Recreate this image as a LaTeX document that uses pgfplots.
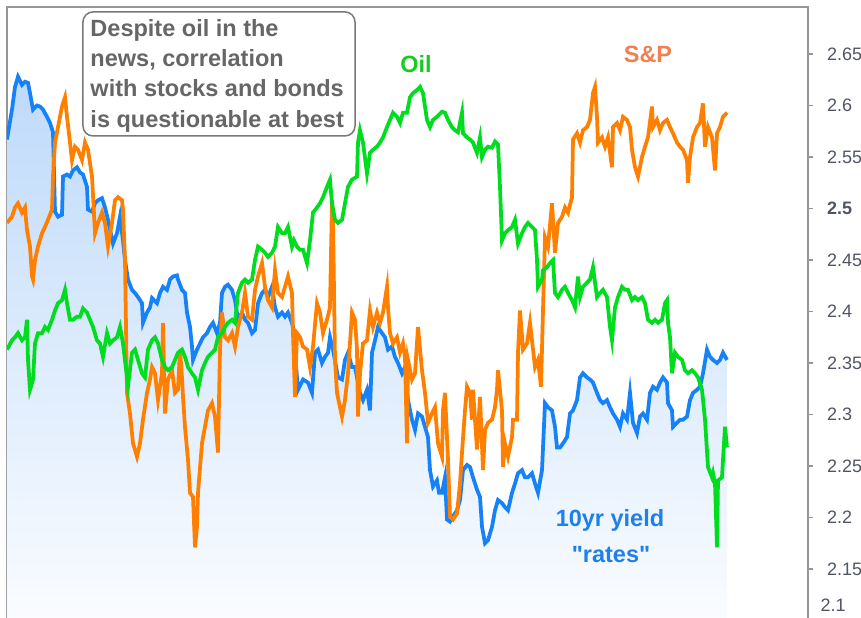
\documentclass[border=0pt]{standalone}
\usepackage{pgfplots}
\pgfplotsset{compat=1.18}
\usepackage{pgfplotstable}
\usepackage{fontspec}
\setmainfont{Liberation Sans}
\definecolor{bline}{RGB}{22,130,250}
\definecolor{oline}{RGB}{255,128,0}
\definecolor{gline}{RGB}{0,220,30}
\definecolor{blab}{RGB}{30,128,235}
\definecolor{olab}{RGB}{240,128,80}
\definecolor{glab}{RGB}{20,205,30}
\definecolor{boxtxt}{RGB}{102,102,102}
\definecolor{tlab}{RGB}{80,85,100}
\definecolor{frame}{RGB}{150,150,150}
\definecolor{filltop}{RGB}{190,218,250}
\definecolor{fillbot}{RGB}{250,252,255}

\pgfplotstableread{
x y
7 2.567
12 2.596
15 2.618
18 2.628
22 2.620
25 2.623
28 2.622
30 2.612
33 2.596
37 2.600
40 2.599
43 2.596
47 2.589
50 2.583
53 2.574
55 2.497
58 2.492
62 2.494
63 2.531
67 2.533
70 2.531
73 2.537
77 2.540
80 2.535
83 2.533
87 2.521
88 2.499
92 2.497
95 2.505
98 2.508
102 2.510
105 2.501
108 2.489
113 2.466
117 2.476
120 2.492
123 2.469
125 2.450
128 2.431
132 2.421
135 2.418
138 2.414
142 2.408
143 2.389
147 2.399
150 2.404
152 2.413
157 2.408
160 2.418
163 2.424
167 2.421
170 2.431
173 2.434
177 2.435
178 2.431
182 2.421
185 2.418
187 2.399
190 2.385
192 2.366
193 2.353
197 2.363
200 2.369
203 2.375
207 2.379
210 2.385
213 2.389
217 2.379
220 2.389
222 2.418
225 2.424
228 2.426
232 2.421
235 2.411
238 2.392
242 2.399
245 2.392
248 2.389
252 2.379
255 2.382
258 2.408
262 2.418
265 2.421
268 2.414
272 2.424
275 2.404
278 2.395
282 2.399
285 2.395
288 2.399
292 2.389
293 2.385
298 2.324
303 2.334
308 2.331
312 2.321
315 2.360
318 2.363
322 2.350
325 2.356
328 2.360
330 2.375
333 2.363
338 2.336
342 2.334
345 2.353
348 2.360
352 2.346
355 2.346
360 2.321
363 2.314
367 2.324
370 2.304
372 2.360
375 2.372
378 2.385
382 2.379
385 2.375
388 2.363
392 2.366
395 2.356
398 2.350
402 2.340
405 2.346
408 2.314
412 2.295
415 2.285
418 2.301
422 2.298
425 2.288
428 2.278
430 2.246
433 2.230
437 2.236
439 2.224
442 2.224
445 2.239
447 2.198
450 2.196
453 2.201
457 2.207
460 2.217
463 2.246
467 2.251
470 2.249
473 2.239
477 2.227
480 2.220
482 2.191
485 2.175
488 2.178
492 2.191
495 2.207
498 2.217
502 2.214
505 2.210
508 2.207
512 2.224
515 2.233
518 2.243
522 2.246
525 2.239
528 2.239
532 2.243
535 2.233
538 2.224
542 2.246
545 2.311
548 2.307
552 2.304
555 2.288
557 2.268
560 2.268
563 2.272
567 2.278
570 2.301
573 2.304
577 2.314
580 2.336
583 2.340
587 2.336
590 2.334
593 2.331
597 2.321
600 2.314
603 2.311
607 2.314
610 2.307
613 2.301
617 2.295
620 2.288
623 2.301
627 2.295
630 2.321
633 2.292
637 2.282
640 2.298
643 2.301
647 2.295
650 2.321
653 2.327
657 2.324
660 2.331
663 2.336
667 2.331
668 2.311
672 2.304
673 2.288
677 2.292
680 2.295
683 2.295
687 2.298
690 2.314
693 2.321
697 2.324
700 2.327
703 2.340
707 2.363
710 2.356
713 2.353
717 2.350
720 2.353
723 2.360
727 2.353
}\yieldtab

\pgfplotstableread{
x y
7 2.486
12 2.492
15 2.501
18 2.505
22 2.496
25 2.501
27 2.479
30 2.463
32 2.434
33 2.431
35 2.450
38 2.463
42 2.476
45 2.482
48 2.489
52 2.499
53 2.531
55 2.564
58 2.579
62 2.599
65 2.608
67 2.589
70 2.564
72 2.547
75 2.560
78 2.557
82 2.547
85 2.564
88 2.557
92 2.531
95 2.476
98 2.486
102 2.496
105 2.486
108 2.463
112 2.486
115 2.508
118 2.511
122 2.508
123 2.499
125 2.450
127 2.321
130 2.301
133 2.272
137 2.259
140 2.272
143 2.295
147 2.321
150 2.334
152 2.346
155 2.340
158 2.314
162 2.340
163 2.389
165 2.301
168 2.334
172 2.343
175 2.321
178 2.324
180 2.363
182 2.336
183 2.317
185 2.288
188 2.256
190 2.224
193 2.220
195 2.171
197 2.191
198 2.224
202 2.272
205 2.288
208 2.304
212 2.311
215 2.298
218 2.263
220 2.363
222 2.399
225 2.375
228 2.372
232 2.379
235 2.366
238 2.385
242 2.399
245 2.418
248 2.395
252 2.392
255 2.421
258 2.434
262 2.447
265 2.424
268 2.411
272 2.404
275 2.440
278 2.418
282 2.414
285 2.424
288 2.434
292 2.418
293 2.379
295 2.317
297 2.379
300 2.375
303 2.366
307 2.363
310 2.346
313 2.366
317 2.408
320 2.399
323 2.379
327 2.392
330 2.404
332 2.508
333 2.489
335 2.353
337 2.321
340 2.307
342 2.298
345 2.314
348 2.340
352 2.399
355 2.392
357 2.363
358 2.298
360 2.340
363 2.369
367 2.372
370 2.401
373 2.385
377 2.399
380 2.389
383 2.399
387 2.424
388 2.404
390 2.379
393 2.369
397 2.375
400 2.360
403 2.369
405 2.356
407 2.272
408 2.353
412 2.334
415 2.340
418 2.385
422 2.343
425 2.321
428 2.292
432 2.301
435 2.307
438 2.272
442 2.259
443 2.304
445 2.321
448 2.256
450 2.201
453 2.198
457 2.204
460 2.233
462 2.263
465 2.304
467 2.327
470 2.321
472 2.295
473 2.324
477 2.266
480 2.317
483 2.246
485 2.285
488 2.292
492 2.295
495 2.307
497 2.324
498 2.343
502 2.304
503 2.249
505 2.272
508 2.259
512 2.278
513 2.295
517 2.295
518 2.360
520 2.401
523 2.363
527 2.369
530 2.389
532 2.372
535 2.346
538 2.353
541 2.327
543 2.401
545 2.472
548 2.463
552 2.505
553 2.489
555 2.457
558 2.486
562 2.492
565 2.501
568 2.496
572 2.511
573 2.567
577 2.573
580 2.564
583 2.576
587 2.579
590 2.586
593 2.612
595 2.618
597 2.589
598 2.564
602 2.569
605 2.560
608 2.569
612 2.540
613 2.579
617 2.583
620 2.576
623 2.589
627 2.586
630 2.579
632 2.557
635 2.540
638 2.531
642 2.550
645 2.560
648 2.569
652 2.599
653 2.579
657 2.586
660 2.576
663 2.583
667 2.586
670 2.579
673 2.573
677 2.564
680 2.560
683 2.557
687 2.547
688 2.525
690 2.550
693 2.569
697 2.579
700 2.583
703 2.602
705 2.560
708 2.579
712 2.569
715 2.537
717 2.573
720 2.579
723 2.589
727 2.593
}\sptab

\pgfplotstableread{
x y
7 2.363
12 2.372
15 2.375
18 2.379
22 2.372
25 2.375
27 2.392
28 2.353
30 2.324
33 2.334
35 2.369
38 2.379
42 2.379
45 2.385
48 2.382
52 2.392
55 2.401
58 2.408
62 2.411
65 2.421
67 2.408
70 2.392
73 2.392
77 2.395
80 2.395
83 2.403
87 2.399
90 2.392
93 2.385
97 2.372
100 2.369
103 2.356
107 2.379
110 2.369
113 2.372
117 2.375
120 2.385
123 2.369
127 2.336
128 2.327
132 2.360
135 2.363
138 2.353
142 2.340
145 2.336
148 2.363
152 2.372
155 2.375
158 2.369
162 2.353
165 2.346
168 2.343
172 2.346
175 2.353
178 2.360
182 2.363
185 2.356
188 2.346
192 2.340
195 2.336
198 2.324
202 2.343
205 2.350
208 2.356
212 2.360
215 2.363
218 2.375
222 2.379
225 2.385
228 2.389
232 2.392
235 2.389
238 2.418
242 2.428
245 2.431
248 2.428
252 2.431
255 2.450
258 2.463
262 2.460
265 2.457
268 2.453
272 2.457
275 2.463
278 2.482
282 2.476
285 2.476
288 2.482
292 2.463
294 2.469
297 2.463
300 2.460
303 2.460
307 2.447
310 2.469
313 2.496
317 2.501
320 2.505
323 2.511
327 2.521
330 2.528
332 2.505
335 2.489
338 2.486
342 2.489
345 2.505
348 2.521
352 2.528
357 2.531
358 2.564
360 2.576
363 2.564
367 2.534
370 2.554
373 2.557
377 2.560
380 2.564
383 2.569
387 2.579
390 2.586
393 2.593
397 2.589
400 2.583
403 2.593
407 2.593
410 2.608
413 2.612
417 2.615
420 2.618
423 2.612
427 2.586
430 2.579
433 2.586
437 2.589
442 2.594
445 2.593
448 2.586
452 2.579
455 2.576
458 2.574
462 2.593
463 2.573
467 2.569
470 2.567
473 2.564
477 2.554
480 2.569
482 2.550
485 2.557
488 2.560
492 2.559
495 2.565
498 2.562
500 2.521
502 2.469
505 2.476
508 2.479
512 2.482
515 2.489
518 2.466
522 2.476
525 2.482
528 2.486
532 2.482
535 2.479
537 2.450
538 2.424
542 2.431
543 2.440
547 2.443
550 2.447
553 2.450
555 2.418
558 2.414
562 2.421
565 2.424
568 2.418
572 2.411
575 2.404
578 2.434
580 2.414
583 2.424
587 2.428
590 2.431
593 2.443
597 2.414
600 2.418
603 2.421
607 2.414
610 2.385
612 2.372
615 2.404
618 2.414
622 2.424
625 2.421
628 2.421
632 2.411
635 2.414
638 2.411
642 2.414
645 2.408
648 2.392
652 2.389
655 2.392
658 2.389
662 2.392
665 2.408
667 2.411
668 2.389
670 2.375
672 2.340
675 2.360
678 2.356
682 2.353
685 2.343
688 2.340
692 2.343
695 2.340
698 2.336
702 2.324
705 2.295
708 2.249
712 2.239
713 2.243
715 2.233
717 2.171
718 2.236
722 2.239
723 2.256
725 2.288
727 2.268
}\oiltab

\begin{document}
\begin{tikzpicture}
\begin{axis}[
  at={(0,0)}, anchor=north west,
  scale only axis, width=320.4pt, height=245.4pt,
  xmin=7, xmax=808, ymin=2.1, ymax=2.6956,
  axis line style={draw=frame, line width=0.6pt},
  xtick=\empty,
  ytick={2.15,2.2,2.25,2.3,2.35,2.4,2.45,2.5,2.55,2.6,2.65},
  yticklabels={2.15,2.2,2.25,2.3,2.35,2.4,2.45,\textbf{2.5},2.55,2.6,2.65},
  ytick pos=right, yticklabel pos=right,
  tick align=outside, major tick length=2pt,
  ytick style={draw=frame, line width=0.6pt},
  yticklabel style={font=\fontsize{7.2}{9}\selectfont, text=tlab, anchor=west, inner sep=0pt, xshift=5.4pt},
  clip=true,
]
\addplot[draw=none, top color=filltop, bottom color=fillbot, forget plot] table[x=x,y=y] {\yieldtab} -- (axis cs:727,2.1) -- (axis cs:7,2.1) -- cycle;
\addplot[bline, line width=1.5pt] table[x=x,y=y] {\yieldtab};
\addplot[oline, line width=1.5pt] table[x=x,y=y] {\sptab};
\addplot[gline, line width=1.5pt] table[x=x,y=y] {\oiltab};

\draw[draw={rgb,255:red,120;green,120;blue,120}, line width=0.6pt, fill=white, rounded corners=4pt]
  (axis cs:83,2.6908) rectangle (axis cs:355,2.5704);
\begin{scope}[every node/.style={anchor=base west, inner sep=0pt, text=boxtxt, font=\bfseries\fontsize{9.4}{11}\selectfont}]
\node at (axis cs:90,2.6665) {Despite oil in the};
\node at (axis cs:90,2.6374) {news, correlation};
\node at (axis cs:90,2.6083) {with stocks and bonds};
\node at (axis cs:90,2.5791) {is questionable at best};
\end{scope}
\node[anchor=base, inner sep=0pt, text=glab, font=\bfseries\fontsize{9.4}{11}\selectfont] at (axis cs:416,2.6325) {Oil};
\node[anchor=base, inner sep=0pt, text=olab, font=\bfseries\fontsize{9.4}{11}\selectfont] at (axis cs:648,2.6422) {S\&P};
\node[anchor=base, inner sep=0pt, text=blab, font=\bfseries\fontsize{9.4}{11}\selectfont] at (axis cs:610,2.1908) {10yr yield};
\node[anchor=base, inner sep=0pt, text=blab, font=\bfseries\fontsize{9.4}{11}\selectfont] at (axis cs:611,2.1568) {\textquotedbl rates\textquotedbl};
\end{axis}
\node[anchor=west, inner sep=0pt, text=tlab, font=\fontsize{7.2}{9}\selectfont] at (325.2pt,-239.4pt) {2.1};
\pgfresetboundingbox
\useasboundingbox (-2.8pt,2.8pt) rectangle (341.6pt,-244pt);
\end{tikzpicture}
\end{document}
